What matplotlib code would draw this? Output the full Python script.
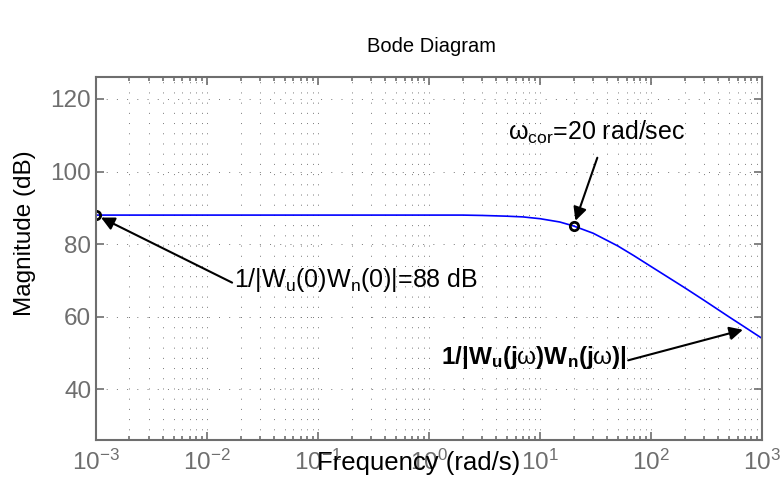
import matplotlib
matplotlib.use('Agg')
import matplotlib.pyplot as plt
from matplotlib.ticker import LogLocator

plt.rcParams['font.family'] = ['Liberation Sans', 'DejaVu Sans']
plt.rcParams['mathtext.fontset'] = 'custom'
plt.rcParams['mathtext.rm'] = 'Liberation Sans'
plt.rcParams['mathtext.it'] = 'Liberation Sans'
plt.rcParams['mathtext.bf'] = 'Liberation Sans:bold'

# magnitude (rad/s, dB)
freq = [1e-3, 1e-2, 1e-1, 1, 2, 3, 5, 7, 10, 15, 20, 30, 50, 70, 100, 200, 300, 500, 700, 1000]
mag = [88.0, 88.0, 88.0, 88.0, 88.0, 87.9, 87.7, 87.5, 87.0, 86.1, 85.0, 83.0, 79.5, 76.8, 73.8, 68.0, 64.5, 60.0, 57.1, 54.0]

dc_point = (1e-3, 88.0)
cor_point = (20, 85.0)

fig = plt.figure(figsize=(7.81, 4.79), dpi=100)
ax = fig.add_axes([0.123, 0.081, 0.853, 0.758])

ax.semilogx(freq, mag, color='#0000ff', lw=1.2)
ax.plot(*dc_point, 'o', mfc='none', mec='black', mew=2, ms=6)
ax.plot(*cor_point, 'o', mfc='none', mec='black', mew=2, ms=6)

ax.set_xlim(1e-3, 1e3)
ax.set_ylim(26, 126)
ax.set_yticks([40, 60, 80, 100, 120])
ax.set_xticks([1e-3, 1e-2, 1e-1, 1, 10, 100, 1000])
ax.set_xticklabels([r'$10^{-3}$', r'$10^{-2}$', r'$10^{-1}$', r'$10^{0}$',
                    r'$10^{1}$', r'$10^{2}$', r'$10^{3}$'])
ax.xaxis.set_minor_locator(LogLocator(base=10, subs=range(2, 10), numticks=20))

dots = (0, (1, 9.5))
ax.grid(True, which='major', linestyle=dots, color='#777777', lw=0.7)
ax.grid(True, which='minor', axis='x', linestyle=dots, color='#777777', lw=0.7)

ax.tick_params(which='both', direction='in', top=True, right=True, colors='#6e6e6e',
               labelsize=17.5, width=1.2)
ax.tick_params(which='major', length=6)
ax.tick_params(which='minor', length=3)
ax.tick_params(axis='x', pad=7)
for s in ax.spines.values():
    s.set_color('#6e6e6e')
    s.set_linewidth(1.5)

ax.set_ylabel('Magnitude (dB)', fontsize=17.5, color='black')
ax.yaxis.set_label_coords(-0.09, 0.569)
ax.set_xlabel('Frequency (rad/s)', fontsize=18.5, color='black')
ax.xaxis.set_label_coords(0.484, -0.03)
fig.text(0.552, 0.902, 'Bode Diagram', ha='center', va='center', fontsize=14.5)

arrow = dict(arrowstyle='-|>', color='black', lw=1.5, mutation_scale=20, shrinkA=0, shrinkB=4)

ax.text(0.0175, 70.0, r'1/|W$_{\rm u}$(0)W$_{\rm n}$(0)|=88 dB', fontsize=18, va='center', ha='left')
ax.annotate('', xy=dc_point, xytext=(0.0168, 69.4), arrowprops=arrow)

ax.text(5.15, 110.7, r'$\omega_{\rm cor}$=20 rad/sec', fontsize=18, va='center', ha='left')
ax.annotate('', xy=cor_point, xytext=(32.7, 103.8), arrowprops=arrow)

ax.text(60.8, 48.8, r'1/|W$_\mathbf{u}$(j$\omega$)W$_\mathbf{n}$(j$\omega$)|', fontsize=17.5,
        fontweight='bold', va='center', ha='right')
ax.annotate('', xy=(748, 56.8), xytext=(62, 48.0), arrowprops=arrow)

fig.savefig('out.png', dpi=100)
